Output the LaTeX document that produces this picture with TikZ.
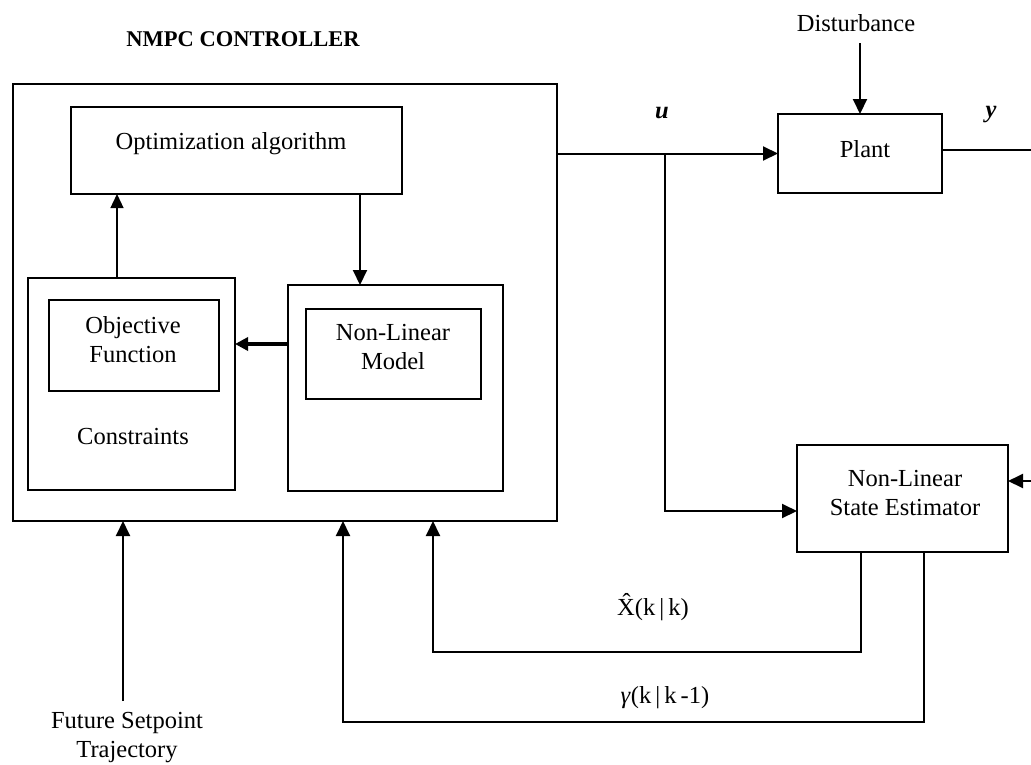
\documentclass[tikz,border=0pt]{standalone}
\usepackage{fontspec}
\setmainfont{Liberation Serif}
\usetikzlibrary{arrows.meta,calc}
\begin{document}
\begin{tikzpicture}[x=1pt,y=-1pt,
  box/.style={draw,line width=2pt,inner sep=0pt,outer sep=0pt},
  txt/.style={inner sep=0pt,align=center,font=\fontsize{24.5pt}{29pt}\selectfont},
  ttl/.style={inner sep=0pt,font=\fontsize{22.5pt}{27pt}\selectfont\bfseries},
  conn/.style={line width=2pt},
  arr/.style={line width=2pt,-{Triangle[length=15pt,width=14pt]}},
  tarr/.style={line width=1.3pt,-{Triangle[length=14pt,width=13pt]}},
  karr/.style={line width=4.3pt,-{Triangle[length=13pt,width=13pt]}}]
\useasboundingbox (0,0) rectangle (1031,764);
% boxes
\node[box,minimum width=544pt,minimum height=437pt] (big) at (285,302.5) {};
\node[box,minimum width=331pt,minimum height=87pt] (opt) at (236.5,150.5) {};
\node[box,minimum width=207pt,minimum height=212pt] (cons) at (131.5,384) {};
\node[box,minimum width=170pt,minimum height=91pt] (obj) at (134,345.5) {};
\node[box,minimum width=215pt,minimum height=206pt] (nlo) at (395.5,388) {};
\node[box,minimum width=175pt,minimum height=90pt] (nli) at (393.5,354) {};
\node[box,minimum width=164pt,minimum height=79pt] (plant) at (860,153.5) {};
\node[box,minimum width=211pt,minimum height=107pt] (est) at (902.5,498.5) {};
% texts
\node[ttl] (title) at (243,39) {NMPC CONTROLLER};
\node[txt] (optt) at (231,144) {Optimization algorithm};
\node[txt] (objt) at (133,340) {Objective\\Function};
\node[txt] (const) at (133,436) {Constraints};
\node[txt] (nlt) at (393,347.5) {Non-Linear\\Model};
\node[txt] (plantt) at (865,149) {Plant};
\node[txt] (estt) at (905,493) {Non-Linear\\State Estimator};
\node[txt] (dist) at (856,23) {Disturbance};
\node[txt] (fst) at (127,737.5) {Future Setpoint\\Trajectory};
\node[txt] (ulab) at (662,113) {\textbf{\textit{u}}};
\node[txt] (ylab) at (991,115) {\textbf{\textit{y}}};
\node[txt] (xlab) at (653,607) {\^{X}(k\,|\,k)};
\node[txt] (glab) at (665,698) {\textit{γ}(k\,|\,k\,-1)};
% helper coordinates
\coordinate (c117) at (117,0);
\coordinate (c360) at (360,0);
\coordinate (c344) at (0,344);
\coordinate (br) at (665,153.5);
\coordinate (c511) at (0,511);
\coordinate (yend) at (1031,150);
\coordinate (fbin) at (1031,481);
\coordinate (dtop) at (860,43);
\coordinate (c861) at (861,0);
\coordinate (c924) at (924,0);
\coordinate (c652) at (0,652);
\coordinate (c722) at (0,722);
\coordinate (c433) at (433,0);
\coordinate (c343) at (343,0);
\coordinate (c123) at (123,0);
\coordinate (c701) at (0,701);
% connectors
\draw[tarr] (c117 |- cons.north) -- (c117 |- opt.south);
\draw[arr] (c360 |- opt.south) -- (c360 |- nlo.north);
\draw[karr] (nlo.west |- c344) -- (cons.east |- c344);
\draw[arr] (big.east |- br) -- (plant.west |- br);
\draw[arr] (br) |- (est.west |- c511);
\draw[conn] (plant.east |- yend) -- (yend);
\draw[arr] (fbin) -- (est.east |- fbin);
\draw[arr] (dtop) -- (plant.north);
\draw[arr] (c861 |- est.south) |- (c433 |- c652) -- (c433 |- big.south);
\draw[arr] (c924 |- est.south) |- (c343 |- c722) -- (c343 |- big.south);
\draw[arr] (c123 |- c701) -- (c123 |- big.south);
\end{tikzpicture}
\end{document}
